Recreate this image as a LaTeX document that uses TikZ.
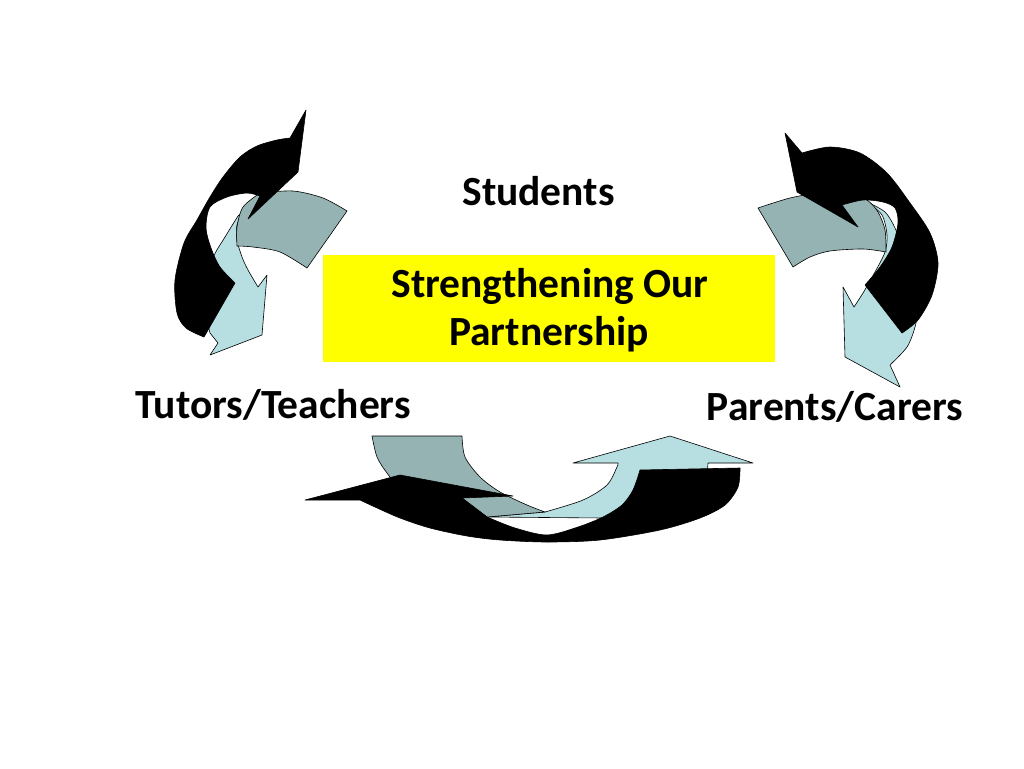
\documentclass[tikz,border=0pt]{standalone}
\usepackage{fontspec}
\setmainfont{Carlito}
\definecolor{greyc}{RGB}{149,179,179}
\definecolor{lblue}{RGB}{183,222,225}
\definecolor{yel}{RGB}{255,255,0}
\tikzset{
  blk/.style={fill=black, draw=black, line width=0.6pt, line join=round},
  gry/.style={fill=greyc, draw=black, line width=0.6pt, line join=round},
  lbl/.style={fill=lblue, draw=black, line width=0.6pt, line join=round},
  lab/.style={anchor=base, inner sep=0pt, font=\fontsize{41.5}{48}\selectfont\bfseries},
}
\begin{document}
\begin{tikzpicture}[x=1pt,y=-1pt]
\useasboundingbox[fill=white] (0,0) rectangle (1024,768);

% ---------- left group ----------
\filldraw[lbl] (238,216) -- plot[smooth] coordinates {(238,216) (225,237) (213,258) (207,287) (207,317) (210,333)}
  -- (218,343) -- (210,355) -- (262,335) -- (267,275) -- (258,287)
  -- plot[smooth] coordinates {(258,287) (248,270) (242,257) (237,240) (237,225) (245,207) (257,200)} -- cycle;
\filldraw[gry] plot[smooth] coordinates {(260,193) (293,191) (323,198) (347,211)}
  -- (307,268)
  -- plot[smooth] coordinates {(307,268) (280,252) (253,247) (237,246)}
  -- plot[smooth] coordinates {(237,246) (237,227) (243,207) (260,193)} -- cycle;
\filldraw[blk] (306,110) -- (298,172) -- (248,219) -- (260,196)
  -- plot[smooth] coordinates {(260,196) (247,193) (227,197) (210,207) (206,228) (211,248) (220,267) (235,283)}
  -- (204,337)
  -- plot[smooth] coordinates {(204,337) (186,328) (177,313) (175,280) (184,243) (197,220) (210,197) (223,177) (240,157) (257,146) (277,140) (290,138)}
  -- cycle;

% ---------- right group ----------
\filldraw[lbl] (867,202) -- plot[smooth] coordinates {(867,202) (885,212) (895,228) (903,250) (912,280) (917,310) (915,327) (907,347) (890,365)}
  -- (900,387) -- (845,357) -- (843,287) -- (854,307)
  -- plot[smooth] coordinates {(854,307) (863,293) (875,272) (885,252) (887,235) (882,215) (867,202)} -- cycle;
\filldraw[gry] (758,208) -- plot[smooth] coordinates {(758,208) (790,198) (820,193) (850,194) (867,200) (878,212) (885,230) (886,252)}
  -- plot[smooth] coordinates {(886,252) (863,249) (830,251) (810,257) (793,267)} -- cycle;
\filldraw[blk] (785,133) -- (797,192) -- (858,227) -- (842,205)
  -- plot[smooth] coordinates {(842,205) (863,200) (883,202) (895,208) (898,223) (892,247) (880,267) (865,285)}
  -- (902,333)
  -- plot[smooth] coordinates {(902,333) (918,320) (932,295) (938,263) (930,233) (910,203) (887,173) (860,153) (830,147) (802,153)}
  -- cycle;

% ---------- bottom group ----------
\filldraw[lbl] (670,436) -- (753,463) -- (708,463)
  -- plot[smooth] coordinates {(708,463) (703,490) (680,508) (640,516) (603,518)}
  -- (487,517) -- (545,512)
  -- plot[smooth] coordinates {(545,512) (583,500) (607,485) (617,467) (618,463)}
  -- (573,463) -- cycle;
\filldraw[gry] (372,436) -- (462,436)
  -- plot[smooth] coordinates {(462,436) (465,457) (480,477) (500,492) (527,505) (545,512)}
  -- (487,517) -- (462,498)
  -- plot[smooth] coordinates {(462,498) (430,500) (400,487) (387,473) (377,457) (372,436)} -- cycle;
\filldraw[blk] (640,470) -- (740,468)
  -- plot[smooth] coordinates {(740,468) (738,487) (725,505) (700,518) (660,530) (600,540) (547,542) (500,540) (467,536) (430,528) (400,518) (375,507) (360,500)}
  -- (305,500) -- (400,475) -- (513,496) -- (462,498) -- (487,517)
  -- plot[smooth] coordinates {(487,517) (515,528) (547,535) (578,527) (603,517) (622,505) (633,490) (640,470)}
  -- cycle;

% ---------- texts ----------
\node[fill=yel, minimum width=452pt, minimum height=107pt, inner sep=0pt] (box) at (549,308.5) {};
\node[lab] (students) at (538.5,205) {Students};
\node[lab] (s1) at (550,297) {Strengthening Our};
\node[lab] (s2) at (549,345) {Partnership};
\node[lab] (tutors) at (273,418) {Tutors/Teachers};
\node[lab] (parents) at (835,420) {Parents/Carers};
\end{tikzpicture}
\end{document}
